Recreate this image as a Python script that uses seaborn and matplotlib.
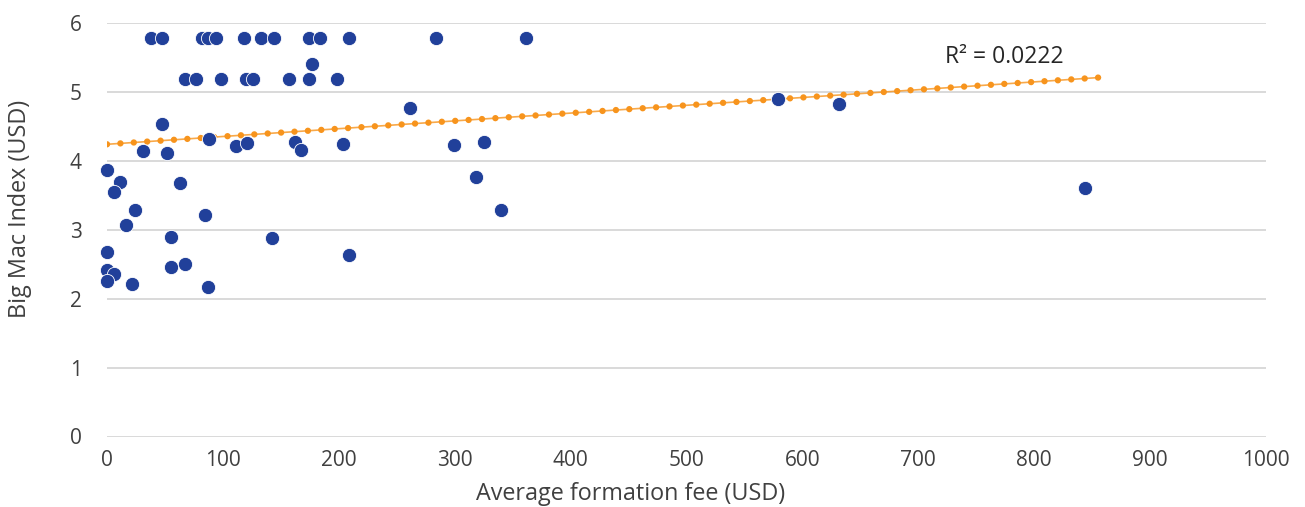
import matplotlib
matplotlib.use("Agg")
import matplotlib.pyplot as plt
import seaborn as sns
import pandas as pd
import numpy as np

# Data
formation_fee = [
    37.7, 47.8, 81.8, 87.5, 93.9, 118.6, 133, 144, 174.2, 183.7, 208.7, 284, 361.8,
    67.1, 76.6, 98.6, 120, 126, 157.4, 174.2, 198.2,
    176.7,
    47.8, 88.3, 30.8, 51.8, 111.1, 120.6, 162, 167.5, 203.8,
    0, 11.2, 6.3, 62.8, 23.9, 16.4, 84.4, 55.5, 142.2,
    0, 0, 6.3, 0, 21.3, 55.5, 67.6, 87, 208.7,
    261.7, 299, 325.6, 318.4, 340,
    578.6, 632, 843.7,
]
big_mac = [
    5.78, 5.78, 5.78, 5.78, 5.78, 5.78, 5.78, 5.78, 5.78, 5.78, 5.78, 5.78, 5.78,
    5.19, 5.19, 5.19, 5.19, 5.19, 5.19, 5.19, 5.19,
    5.41,
    4.53, 4.31, 4.14, 4.12, 4.22, 4.26, 4.28, 4.16, 4.25,
    3.86, 3.70, 3.55, 3.68, 3.28, 3.07, 3.22, 2.90, 2.88,
    2.68, 2.42, 2.36, 2.25, 2.22, 2.46, 2.50, 2.17, 2.64,
    4.76, 4.23, 4.28, 3.77, 3.28,
    4.89, 4.82, 3.61,
]
trend_x = [0, 857]
trend_y = [4.24, 5.21]
r2_label = "R² = 0.0222"

x_ticks = [0, 100, 200, 300, 400, 500, 600, 700, 800, 900, 1000]
y_ticks = [0, 1, 2, 3, 4, 5, 6]

sns.set_theme(style="white")
plt.rcParams["font.family"] = ["Open Sans", "DejaVu Sans"]

text_color = "#404040"
dot_color = "#21409A"
trend_color = "#F7941D"
grid_color = "#D9D9D9"

fig = plt.figure(figsize=(13.05, 5.07), dpi=100)
ax = fig.add_axes([107 / 1305, 1 - 436.5 / 507, 1159 / 1305, 413.5 / 507])

for yv in y_ticks:
    ax.axhline(yv, color=grid_color, lw=1.4, zorder=0)

df_trend = pd.DataFrame({"x": trend_x, "y": trend_y})
sns.lineplot(data=df_trend, x="x", y="y", ax=ax, color=trend_color, lw=1.2,
             alpha=0.8, zorder=2)
sns.lineplot(data=df_trend, x="x", y="y", ax=ax, color=trend_color, lw=4.6,
             linestyle=(0, (0.001, 2.1)), dash_capstyle="round", zorder=3)

df = pd.DataFrame({"fee": formation_fee, "bigmac": big_mac})
sns.scatterplot(data=df, x="fee", y="bigmac", ax=ax, color=dot_color, s=105,
                edgecolor="white", linewidth=0.6, zorder=4, clip_on=False)

ax.text(723, 5.50, r2_label, ha="left", va="center", fontsize=16.5,
        color="#262626", family=["Open Sans", "DejaVu Sans"])

ax.set_xlim(0, 1000)
ax.set_ylim(0, 6)
ax.set_xticks(x_ticks)
ax.set_yticks(y_ticks)
ax.tick_params(axis="both", length=0, labelsize=15, labelcolor=text_color)
ax.tick_params(axis="x", pad=10)
ax.tick_params(axis="y", pad=18)
for s in ax.spines.values():
    s.set_visible(False)
ax.grid(False)

ax.set_xlabel("Average formation fee (USD)", fontsize=16.8, color=text_color)
ax.set_ylabel("Big Mac Index (USD)", fontsize=16.8, color=text_color)
ax.xaxis.set_label_coords((631 - 107) / 1159, (436.5 - 494) / 413.5)
ax.yaxis.set_label_coords((20 - 107) / 1159, (436.5 - 209) / 413.5)
ax.xaxis.label.set_va("center")
ax.yaxis.label.set_va("center")

fig.savefig("out.png", dpi=100)
